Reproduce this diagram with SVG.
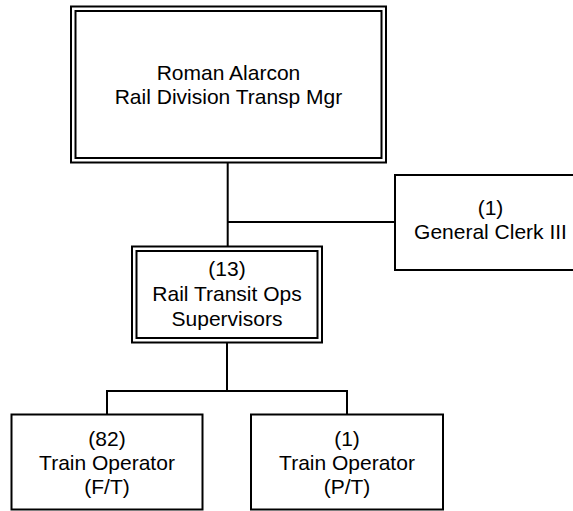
<svg xmlns="http://www.w3.org/2000/svg" width="573" height="511" viewBox="0 0 573 511">
<style>
.box{fill:#fff;stroke:#000;stroke-width:2}
.line{fill:none;stroke:#000;stroke-width:2}
text{font-family:"Liberation Sans",Arial,sans-serif;font-size:21px;fill:#000;text-anchor:middle}
</style>
<rect width="573" height="511" fill="#fff"/>
<g id="connectors">
<path class="line" d="M227.7 162.5V246.5M227.7 222H395"/>
<path class="line" d="M227 342.7V391M107 414.5V391H347V414.5"/>
</g>
<g id="n-manager">
<rect class="box" x="71" y="6.5" width="315" height="156"/>
<rect class="box" x="75.5" y="11" width="306" height="147"/>
<text x="228.5" y="79.5">Roman Alarcon</text>
<text x="228.5" y="103.5">Rail Division Transp Mgr</text>
</g>
<g id="n-clerk">
<rect class="box" x="395" y="175" width="191" height="95"/>
<text x="490.5" y="215">(1)</text>
<text x="490.5" y="239">General Clerk III</text>
</g>
<g id="n-supervisors">
<rect class="box" x="132" y="246.5" width="190" height="96"/>
<rect class="box" x="136.5" y="251" width="181" height="87"/>
<text x="227" y="276">(13)</text>
<text x="227" y="301">Rail Transit Ops</text>
<text x="227" y="326">Supervisors</text>
</g>
<g id="n-operator-ft">
<rect class="box" x="11.5" y="414.5" width="191" height="95"/>
<text x="107" y="446">(82)</text>
<text x="107" y="470">Train Operator</text>
<text x="107" y="494">(F/T)</text>
</g>
<g id="n-operator-pt">
<rect class="box" x="251" y="414.5" width="192" height="95"/>
<text x="347" y="446">(1)</text>
<text x="347" y="470">Train Operator</text>
<text x="347" y="494">(P/T)</text>
</g>
</svg>
